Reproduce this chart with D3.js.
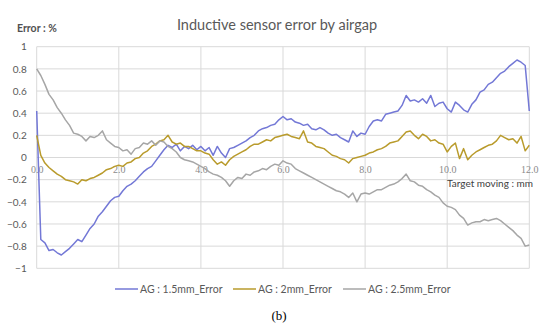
<!DOCTYPE html>
<html>
<head>
<meta charset="utf-8">
<script src="https://cdn.jsdelivr.net/npm/d3@7"></script>
<style>
  body { margin: 0; background: #fff; }
  svg { display: block; }
</style>
</head>
<body>
<script>
// chart values (x step 0.1 mm)
var title = "Inductive sensor error by airgap";
var seriesNames = ["AG : 1.5mm_Error", "AG : 2mm_Error", "AG : 2.5mm_Error"];
var xTicks = [0, 2, 4, 6, 8, 10, 12];
var yTicks = [-1, -0.8, -0.6, -0.4, -0.2, 0, 0.2, 0.4, 0.6, 0.8, 1];
var positions = d3.range(0, 121).map(function(i){ return i / 10; });

var ag15 = [0.42,-0.74,-0.77,-0.84,-0.83,-0.86,-0.88,-0.85,-0.82,-0.78,
  -0.74,-0.76,-0.70,-0.64,-0.60,-0.53,-0.49,-0.44,-0.39,-0.36,
  -0.35,-0.30,-0.26,-0.24,-0.21,-0.17,-0.13,-0.10,-0.08,-0.03,
  0.02,0.07,0.11,0.09,0.12,0.06,0.10,0.08,0.11,0.07,
  0.10,0.06,0.09,0.02,0.10,0.04,0.00,0.08,0.09,0.11,
  0.13,0.15,0.18,0.20,0.24,0.26,0.27,0.29,0.30,0.34,
  0.37,0.34,0.35,0.32,0.31,0.29,0.30,0.26,0.25,0.27,
  0.25,0.22,0.20,0.21,0.18,0.16,0.14,0.24,0.19,0.22,
  0.21,0.28,0.33,0.34,0.33,0.39,0.40,0.41,0.42,0.47,
  0.56,0.51,0.52,0.50,0.53,0.49,0.56,0.46,0.49,0.50,
  0.44,0.41,0.50,0.47,0.43,0.41,0.48,0.52,0.59,0.61,
  0.66,0.68,0.72,0.76,0.78,0.82,0.85,0.88,0.86,0.83,
  0.42];

var ag20 = [0.20,0.02,-0.05,-0.09,-0.12,-0.15,-0.17,-0.20,-0.21,-0.22,
  -0.24,-0.20,-0.21,-0.19,-0.18,-0.16,-0.14,-0.11,-0.10,-0.08,
  -0.07,-0.08,-0.05,-0.04,-0.01,0.00,0.04,0.06,0.10,0.12,
  0.15,0.16,0.20,0.14,0.12,0.13,0.10,0.10,0.08,0.06,
  0.06,0.04,0.03,-0.02,-0.06,-0.04,-0.07,-0.02,0.01,0.03,
  0.05,0.07,0.10,0.12,0.12,0.14,0.16,0.15,0.18,0.19,
  0.20,0.21,0.19,0.18,0.17,0.24,0.14,0.13,0.10,0.09,
  0.08,0.05,0.02,0.01,-0.01,-0.02,-0.05,-0.01,0.00,0.01,
  0.02,0.04,0.05,0.07,0.08,0.10,0.13,0.14,0.15,0.19,
  0.23,0.24,0.20,0.17,0.21,0.19,0.15,0.16,0.13,0.12,
  0.05,0.10,0.13,-0.01,0.08,-0.02,0.02,0.05,0.07,0.09,
  0.11,0.12,0.15,0.20,0.18,0.16,0.17,0.13,0.19,0.06,
  0.11];

var ag25 = [0.80,0.74,0.66,0.57,0.52,0.45,0.40,0.34,0.29,0.22,
  0.21,0.19,0.15,0.19,0.18,0.20,0.24,0.16,0.13,0.10,
  0.09,0.06,0.07,0.03,0.08,0.09,0.13,0.12,0.15,0.11,
  0.15,0.14,0.10,0.08,0.05,0.00,-0.02,-0.03,-0.04,-0.06,
  -0.08,-0.10,-0.13,-0.15,-0.16,-0.18,-0.21,-0.26,-0.21,-0.18,
  -0.19,-0.15,-0.16,-0.13,-0.12,-0.10,-0.11,-0.08,-0.06,-0.07,
  -0.03,-0.05,-0.06,-0.10,-0.12,-0.14,-0.16,-0.18,-0.20,-0.22,
  -0.24,-0.26,-0.28,-0.30,-0.31,-0.33,-0.36,-0.32,-0.40,-0.33,
  -0.32,-0.33,-0.31,-0.29,-0.29,-0.27,-0.25,-0.24,-0.22,-0.19,
  -0.15,-0.21,-0.22,-0.25,-0.26,-0.29,-0.31,-0.34,-0.36,-0.41,
  -0.44,-0.45,-0.47,-0.52,-0.55,-0.61,-0.59,-0.58,-0.58,-0.56,
  -0.57,-0.56,-0.55,-0.57,-0.60,-0.63,-0.66,-0.70,-0.73,-0.80,
  -0.79];

var colors = ["#7378d6", "#b99b2c", "#a6a6a6"];

var W = 550, H = 326;
var margin = {top: 46.7, right: 20.7, bottom: 57.7, left: 36.7};
var width = W - margin.left - margin.right,
    height = H - margin.top - margin.bottom;

var svg = d3.select("body").append("svg")
    .attr("width", W)
    .attr("height", H);

var x = d3.scaleLinear().domain([0, 12]).range([margin.left, margin.left + width]);
var y = d3.scaleLinear().domain([-1, 1]).range([margin.top + height, margin.top]);

// title
svg.append("text")
    .attr("x", 277).attr("y", 30)
    .attr("text-anchor", "middle")
    .attr("font-family", "Lato, 'Open Sans', sans-serif")
    .attr("font-size", 14.5)
    .attr("fill", "#595959")
    .text(title);

svg.append("text")
    .attr("x", 17).attr("y", 31.5)
    .attr("font-family", "Lato, sans-serif")
    .attr("font-size", 10.5)
    .attr("font-weight", "bold")
    .attr("fill", "#505050")
    .text("Error : %");

// grid
svg.append("g")
  .selectAll("line.h")
  .data(yTicks)
  .join("line")
    .attr("x1", x(0)).attr("x2", x(12))
    .attr("y1", function(d){ return y(d); })
    .attr("y2", function(d){ return y(d); })
    .attr("stroke", "#d9d9d9")
    .attr("stroke-width", 1);

svg.append("g")
  .selectAll("line.v")
  .data(xTicks)
  .join("line")
    .attr("x1", function(d){ return x(d); })
    .attr("x2", function(d){ return x(d); })
    .attr("y1", y(1)).attr("y2", y(-1))
    .attr("stroke", "#d9d9d9")
    .attr("stroke-width", 1);

// y axis labels
var yAxis = d3.axisLeft(y).tickValues(yTicks).tickSize(0).tickPadding(10)
    .tickFormat(function(d){ return d === 0 ? "0" : d3.format("")(+d.toFixed(1)); });
var gy = svg.append("g")
    .attr("transform", "translate(" + margin.left + ",0)")
    .call(yAxis);
gy.select(".domain").remove();
gy.selectAll("text")
    .attr("font-family", "Lato, sans-serif")
    .attr("font-size", 10)
    .attr("fill", "#595959");

// x axis labels, sitting under the zero line
var xAxis = d3.axisBottom(x).tickValues(xTicks).tickSize(0).tickPadding(8)
    .tickFormat(d3.format(".1f"));
var gx = svg.append("g")
    .attr("transform", "translate(0," + y(0) + ")")
    .call(xAxis);
gx.select(".domain").remove();
gx.selectAll("text")
    .attr("font-family", "'Liberation Serif', serif")
    .attr("font-size", 10)
    .attr("fill", "#8a8a8a");

svg.append("text")
    .attr("x", 447).attr("y", 187)
    .attr("font-family", "Lato, sans-serif")
    .attr("font-size", 10)
    .attr("fill", "#404040")
    .text("Target moving : mm");

// lines
var allSeries = [ag15, ag20, ag25];
var line = d3.line()
    .x(function(d, i){ return x(positions[i]); })
    .y(function(d){ return y(d); });

allSeries.forEach(function(s, k){
  svg.append("path")
      .datum(s)
      .attr("fill", "none")
      .attr("stroke", colors[k])
      .attr("stroke-width", 1.5)
      .attr("stroke-linejoin", "round")
      .attr("d", line);
});

// legend
var legendX = [115, 233, 343];
var lg = svg.append("g");
seriesNames.forEach(function(name, k){
  lg.append("line")
      .attr("x1", legendX[k]).attr("x2", legendX[k] + 23)
      .attr("y1", 289).attr("y2", 289)
      .attr("stroke", colors[k])
      .attr("stroke-width", 1.5);
  lg.append("text")
      .attr("x", legendX[k] + 25).attr("y", 292.5)
      .attr("font-family", "Lato, sans-serif")
      .attr("font-size", 10.5)
      .attr("fill", "#595959")
      .text(name);
});

svg.append("text")
    .attr("x", 279).attr("y", 320)
    .attr("text-anchor", "middle")
    .attr("font-family", "'Liberation Serif', serif")
    .attr("font-size", 13)
    .attr("fill", "#000")
    .text("(b)");
</script>
</body>
</html>
